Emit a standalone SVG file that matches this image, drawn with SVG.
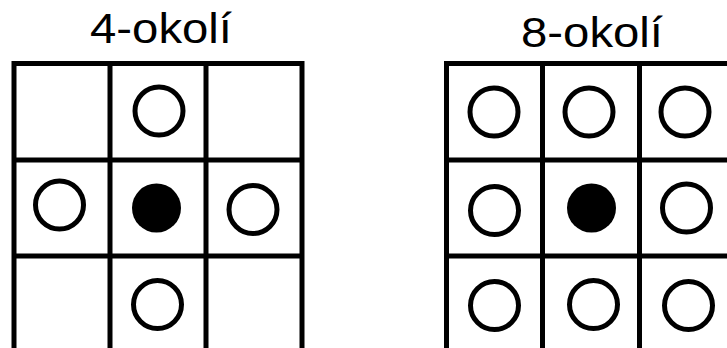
<svg xmlns="http://www.w3.org/2000/svg" width="727" height="348" viewBox="0 0 727 348">
<style>
.title{font-family:"Liberation Sans",Arial,sans-serif;font-size:42px;fill:#000;text-anchor:middle}
.grid{fill:none;stroke:#000;stroke-width:5}
.ring{fill:#fff;stroke:#000;stroke-width:5}
.dot{fill:#000;stroke:none}
</style>
<rect width="727" height="348" fill="#fff"/>
<g id="four">
<text class="title" x="161" y="43" textLength="142" lengthAdjust="spacingAndGlyphs">4-okolí</text>
<g id="four-grid" class="grid">
<path d="M14 63.5V352M110 63.5V352M206 63.5V352M302 63.5V352M11.5 63.5H304.5M11.5 160H304.5M11.5 256H304.5"/>
</g>
<g id="four-n-top"><circle class="ring" cx="159" cy="111" r="24"/></g>
<g id="four-n-left"><circle class="ring" cx="59.5" cy="205" r="24"/></g>
<g id="four-center"><circle class="dot" cx="156.5" cy="208" r="24.5"/></g>
<g id="four-n-right"><circle class="ring" cx="253" cy="209.5" r="24"/></g>
<g id="four-n-bottom"><circle class="ring" cx="157.5" cy="304.5" r="24"/></g>
</g>
<g id="eight">
<text class="title" x="592" y="46.5" textLength="142" lengthAdjust="spacingAndGlyphs">8-okolí</text>
<g id="eight-grid" class="grid">
<path d="M446.5 63.5V352M542.5 63.5V352M639.5 63.5V352M735 63.5V352M444 63.5H740M444 160H740M444 256H740"/>
</g>
<g id="eight-n1"><circle class="ring" cx="494" cy="112" r="24"/></g>
<g id="eight-n2"><circle class="ring" cx="589" cy="112" r="24"/></g>
<g id="eight-n3"><circle class="ring" cx="685" cy="112" r="24"/></g>
<g id="eight-n4"><circle class="ring" cx="494.5" cy="210.5" r="24"/></g>
<g id="eight-center"><circle class="dot" cx="591.5" cy="208" r="24.5"/></g>
<g id="eight-n5"><circle class="ring" cx="686.5" cy="208" r="24"/></g>
<g id="eight-n6"><circle class="ring" cx="494.5" cy="305.5" r="24"/></g>
<g id="eight-n7"><circle class="ring" cx="593.5" cy="304.5" r="24"/></g>
<g id="eight-n8"><circle class="ring" cx="688.5" cy="305.5" r="24"/></g>
</g>
<g id="connectors"/>
</svg>
